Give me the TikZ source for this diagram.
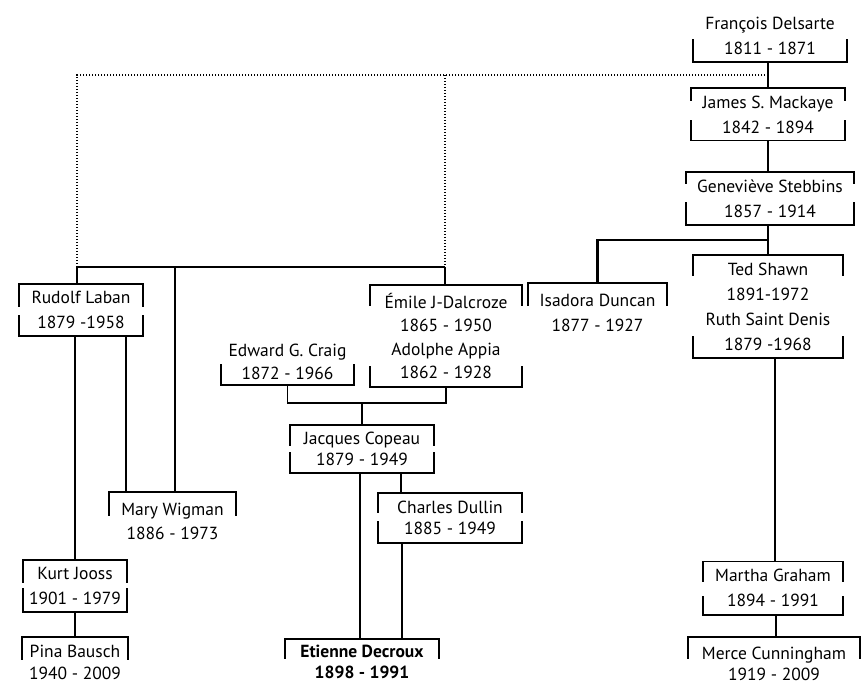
\documentclass[tikz,border=0pt]{standalone}
\usepackage{fontspec}
\setmainfont{PT Sans}
\tikzset{
  pbox/.style={draw=none, rectangle, inner sep=0pt, align=center,
    font=\fontsize{17.5}{25}\selectfont},
  boxln/.style={line width=1.6pt, line cap=rect},
  thickln/.style={line width=2.2pt},
  thinln/.style={line width=1.1pt},
  dotln/.style={line width=1.6pt, dash pattern=on 1.4pt off 1.6pt},
}
\newcommand\topbr[2]{\draw[boxln] ([yshift=-#2pt]#1.north west) -- (#1.north west) -- (#1.north east) -- ([yshift=-#2pt]#1.north east);}
\newcommand\botbr[2]{\draw[boxln] ([yshift=#2pt]#1.south west) -- (#1.south west) -- (#1.south east) -- ([yshift=#2pt]#1.south east);}
\begin{document}
\begin{tikzpicture}[x=1pt,y=-1pt]
\useasboundingbox (0,0) rectangle (861,684);
\fill[white] (0,0) rectangle (861,684);

% people
\node[pbox, minimum width=154pt, minimum height=53pt] (delsarte) at (770,35.5) {François Delsarte\\1811 - 1871};
\node[pbox, minimum width=154pt, minimum height=52pt] (mackaye) at (768,114.5) {James S. Mackaye\\1842 - 1894};
\node[pbox, minimum width=168pt, minimum height=53pt] (stebbins) at (770,198.5) {Geneviève Stebbins\\1857 - 1914};
\node[pbox, minimum width=124pt, minimum height=52pt] (laban) at (81,310) {Rudolf Laban\\1879 -1958};
\node[pbox, minimum width=152pt, minimum height=102pt, font=\fontsize{17.5}{23.5}\selectfont] (dalcroze) at (446,336) {Émile J-Dalcroze\\1865 - 1950\\Adolphe Appia\\1862 - 1928};
\node[pbox, minimum width=139pt, minimum height=60pt] (duncan) at (597.5,313) {Isadora Duncan\\1877 - 1927};
\node[pbox, minimum width=150pt, minimum height=103pt] (shawn) at (768,306.5) {Ted Shawn\\1891-1972\\Ruth Saint Denis\\1879 -1968};
\node[pbox, minimum width=133pt, minimum height=47pt, font=\fontsize{17.5}{23}\selectfont] (craig) at (287.5,361.5) {Edward G. Craig\\1872 - 1966};
\node[pbox, minimum width=144pt, minimum height=48pt, font=\fontsize{17.5}{21}\selectfont] (copeau) at (362,449) {Jacques Copeau\\1879 - 1949};
\node[pbox, minimum width=144pt, minimum height=50pt, font=\fontsize{17.5}{21}\selectfont] (dullin) at (450,518) {Charles Dullin\\1885 - 1949};
\node[pbox, minimum width=127pt, minimum height=58pt, font=\fontsize{17.5}{24}\selectfont] (wigman) at (172.5,521) {Mary Wigman\\1886 - 1973};
\node[pbox, minimum width=104pt, minimum height=52pt] (jooss) at (75,586) {Kurt Jooss\\1901 - 1979};
\node[pbox, minimum width=106pt, minimum height=50pt, font=\fontsize{17.5}{22}\selectfont] (pina) at (75,662) {Pina Bausch\\1940 - 2009};
\node[pbox, minimum width=154pt, minimum height=45pt, font=\fontsize{17.5}{21}\selectfont\bfseries] (decroux) at (362,661.5) {Etienne Decroux\\1898 - 1991};
\node[pbox, minimum width=140pt, minimum height=53pt] (graham) at (773,588) {Martha Graham\\1894 - 1991};
\node[pbox, minimum width=172pt, minimum height=53pt, font=\fontsize{17.5}{21}\selectfont] (merce) at (774,663.5) {Merce Cunningham\\1919 - 2009};

% brackets
\botbr{delsarte}{22}
\topbr{mackaye}{12}\botbr{mackaye}{20}
\topbr{stebbins}{11}\botbr{stebbins}{22}
\topbr{laban}{22}\botbr{laban}{20}
\topbr{dalcroze}{20}\botbr{dalcroze}{20}
\topbr{duncan}{22}
\topbr{shawn}{20}\botbr{shawn}{21}
\botbr{craig}{20}
\topbr{copeau}{20}\botbr{copeau}{20}
\topbr{dullin}{19}\botbr{dullin}{21}
\topbr{wigman}{23}
\topbr{jooss}{22}\botbr{jooss}{23}
\topbr{pina}{22}
\topbr{decroux}{19}
\topbr{graham}{20}\botbr{graham}{18}
\topbr{merce}{21}

% junction points
\coordinate (djoin) at (768,75);
\coordinate (jl) at (77,267);
\coordinate (jr) at (445,267);
\coordinate (wx) at (175,267);
\coordinate (sj) at (768,240);
\coordinate (cj) at (362,403);

% connectors
\draw[thinln] (mackaye.north |- delsarte.south) -- (mackaye.north);
\draw[thinln] (mackaye.south) -- (mackaye.south |- stebbins.north);
\draw[dotln] (djoin) -| (jl);
\draw[dotln] (jr |- djoin) -- (jr);
\draw[thickln] (jl) -- (jr);
\draw[thickln] (jl) -- (jl |- laban.north);
\draw[thickln] (jr) -- (jr |- dalcroze.north);
\draw[thickln] (wx) -- (wx |- wigman.north);
\draw[thickln] ([xshift=45pt]laban.south) -- ([xshift=45pt]laban.south |- wigman.north);
\draw[thinln] (jooss.north |- laban.south) -- (jooss.north);
\draw[thickln] (jooss.south) -- (pina.north);
\draw[thickln] (sj |- stebbins.south) -- (sj);
\draw[thickln] (sj) -| (duncan.north);
\draw[thickln] (sj) -- (sj |- shawn.north);
\draw[thickln] ([xshift=7pt]shawn.south) -- ([xshift=7pt]shawn.south |- graham.north);
\draw[thinln] ([xshift=2pt]merce.north |- graham.south) -- ([xshift=2pt]merce.north);
\draw[thinln] (craig.south) -- (craig.south |- cj) -- (dalcroze.south |- cj) -- (dalcroze.south);
\draw[thinln] (cj) -- (copeau.north);
\draw[thickln] ([xshift=-2pt]decroux.north |- copeau.south) -- ([xshift=-2pt]decroux.north);
\draw[thinln] ([xshift=39pt]copeau.south) -- ([xshift=39pt]copeau.south |- dullin.north);
\draw[thinln] ([xshift=-48pt]dullin.south) -- ([xshift=-48pt]dullin.south |- decroux.north);
\end{tikzpicture}
\end{document}
